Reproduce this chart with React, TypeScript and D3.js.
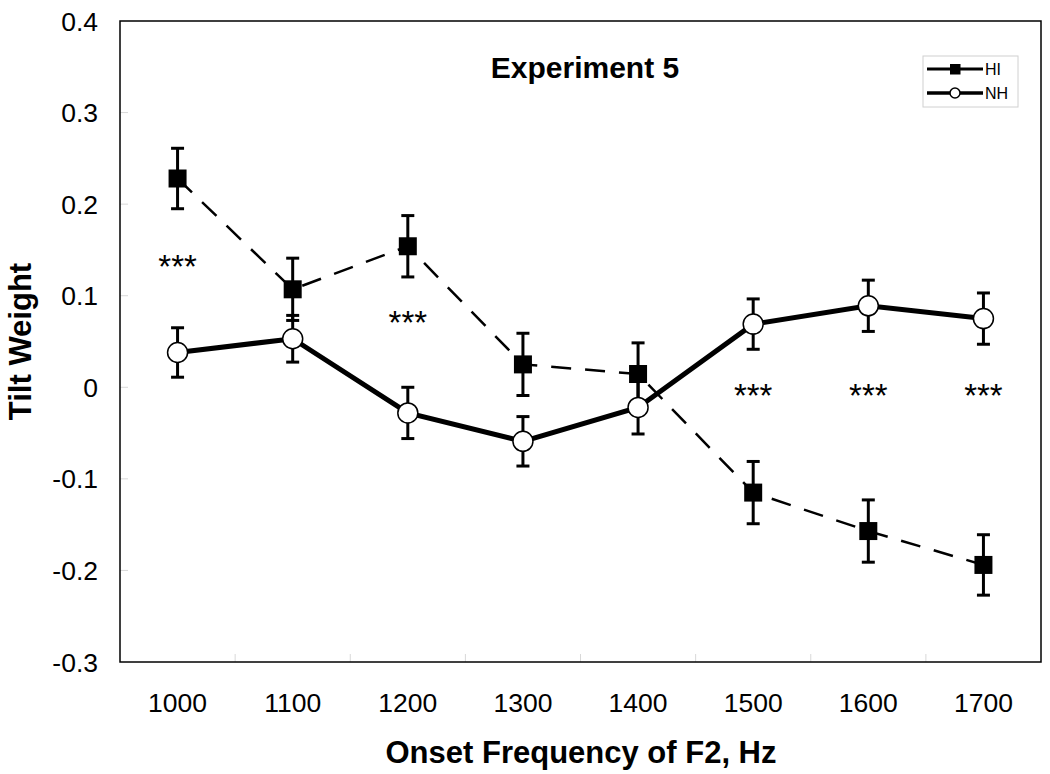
import React from "react";
import * as d3 from "d3";

const categories = ["1000", "1100", "1200", "1300", "1400", "1500", "1600", "1700"];
const hiMean = [0.228, 0.107, 0.154, 0.025, 0.0145, -0.115, -0.157, -0.194];
const hiErr = [0.033, 0.034, 0.0335, 0.034, 0.034, 0.034, 0.034, 0.033];
const nhMean = [0.038, 0.053, -0.028, -0.059, -0.022, 0.069, 0.089, 0.075];
const nhErr = [0.027, 0.0255, 0.028, 0.027, 0.029, 0.0275, 0.028, 0.028];
const yTicks = [-0.3, -0.2, -0.1, 0, 0.1, 0.2, 0.3, 0.4];
const starCats = ["1000", "1200", "1500", "1600", "1700"];
const starVals = [0.135, 0.073, -0.006, -0.006, -0.006];
const seriesNames = ["HI", "NH"];

const W = 1050;
const H = 774;
const left = 120, right = 1041, top = 21, bottom = 662;
const FONT = "'Liberation Sans', Arial, Helvetica, sans-serif";

export default function App() {
  const x = d3.scaleBand<string>().domain(categories).range([left, right]);
  const y = d3.scaleLinear().domain([-0.3, 0.4]).range([bottom, top]);
  const cx = (c: string) => (x(c) as number) + x.bandwidth() / 2;
  const line = d3
    .line<number>()
    .x((_, i) => cx(categories[i]))
    .y((d) => y(d));

  const fmt = (v: number) => (v === 0 ? "0" : d3.format(".1f")(v).replace("\u2212", "-"));
  const bandEdges = categories.slice(1).map((c) => x(c) as number);

  const errBar = (m: number[], e: number[], key: string) =>
    m.map((v, i) => {
      const px = cx(categories[i]);
      const y1 = y(v + e[i]);
      const y2 = y(v - e[i]);
      return (
        <g key={key + i} stroke="#000" strokeWidth={3}>
          <line x1={px} x2={px} y1={y1} y2={y2} />
          <line x1={px - 6.5} x2={px + 6.5} y1={y1} y2={y1} />
          <line x1={px - 6.5} x2={px + 6.5} y1={y2} y2={y2} />
        </g>
      );
    });

  return (
    <svg
      width={W}
      height={H}
      style={{ position: "absolute", left: 0, top: 0, background: "#fff" }}
      fontFamily={FONT}
    >
      <rect x={0} y={0} width={W} height={H} fill="#fff" />
      {/* inner ticks */}
      {yTicks.slice(1, -1).map((t) => (
        <line key={"yt" + t} x1={left} x2={left + 8} y1={y(t)} y2={y(t)} stroke="#d8d8d8" strokeWidth={1} />
      ))}
      {bandEdges.map((e, i) => (
        <line key={"xt" + i} x1={e} x2={e} y1={bottom} y2={bottom - 8} stroke="#d8d8d8" strokeWidth={1} />
      ))}
      {/* frame */}
      <rect x={left} y={top} width={right - left} height={bottom - top} fill="none" stroke="#000" strokeWidth={1.5} />
      {/* y tick labels */}
      {yTicks.map((t) => (
        <text key={"yl" + t} x={98} y={y(t) + 9.5} textAnchor="end" fontSize={26.5} fill="#000">
          {fmt(t)}
        </text>
      ))}
      {/* x tick labels */}
      {categories.map((c) => (
        <text key={"xl" + c} x={cx(c)} y={712} textAnchor="middle" fontSize={26.5} fill="#000">
          {c}
        </text>
      ))}
      {/* axis titles */}
      <text x={581} y={763} textAnchor="middle" fontSize={31} fontWeight="bold" fill="#000">
        Onset Frequency of F2, Hz
      </text>
      <text
        transform={`translate(31, ${(top + bottom) / 2}) rotate(-90)`}
        textAnchor="middle"
        fontSize={31}
        fontWeight="bold"
        fill="#000"
      >
        Tilt Weight
      </text>
      <text x={585} y={78} textAnchor="middle" fontSize={30} fontWeight="bold" fill="#000">
        Experiment 5
      </text>

      {/* HI series */}
      <path d={line(hiMean) || ""} fill="none" stroke="#000" strokeWidth={2.5} strokeDasharray="20 14" />
      {errBar(hiMean, hiErr, "he")}
      {hiMean.map((v, i) => (
        <rect key={"hs" + i} x={cx(categories[i]) - 9} y={y(v) - 9} width={18} height={18} fill="#000" />
      ))}

      {/* NH series */}
      <path d={line(nhMean) || ""} fill="none" stroke="#000" strokeWidth={5} />
      {errBar(nhMean, nhErr, "ne")}
      {nhMean.map((v, i) => (
        <circle key={"nc" + i} cx={cx(categories[i])} cy={y(v)} r={10} fill="#fff" stroke="#000" strokeWidth={1.5} />
      ))}

      {/* significance stars */}
      {starCats.map((c, i) => (
        <text key={"st" + c} x={cx(c)} y={y(starVals[i]) + 14} textAnchor="middle" fontSize={33} fill="#000">
          ***
        </text>
      ))}

      {/* legend */}
      <g>
        <rect x={923} y={56} width={95} height={51} fill="#fff" stroke="#d0d0d0" strokeWidth={1} />
        <line x1={927} x2={983} y1={69} y2={69} stroke="#000" strokeWidth={3} />
        <rect x={950} y={64} width={10.5} height={10.5} fill="#000" />
        <text x={985} y={75} fontSize={16} fill="#000">{seriesNames[0]}</text>
        <line x1={927} x2={983} y1={93} y2={93} stroke="#000" strokeWidth={3.5} />
        <circle cx={955} cy={93} r={5} fill="#fff" stroke="#000" strokeWidth={1.5} />
        <text x={985} y={99} fontSize={16} fill="#000">{seriesNames[1]}</text>
      </g>
    </svg>
  );
}
